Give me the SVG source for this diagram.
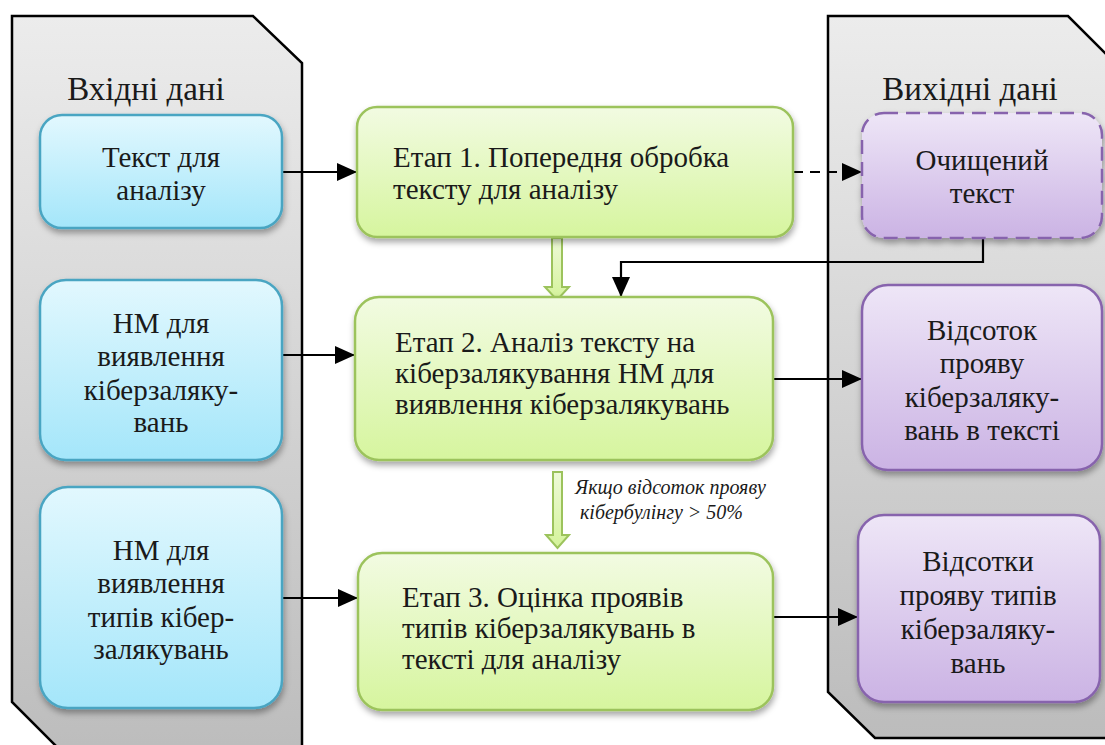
<svg xmlns="http://www.w3.org/2000/svg" width="1105" height="745" viewBox="0 0 1105 745">
<defs>
<linearGradient id="gGray" x1="0" y1="0" x2="0" y2="1"><stop offset="0" stop-color="#ececec"/><stop offset="1" stop-color="#bcbcbc"/></linearGradient>
<linearGradient id="gBlue" x1="0" y1="0" x2="0" y2="1"><stop offset="0" stop-color="#e2f8fe"/><stop offset="1" stop-color="#a4e6fa"/></linearGradient>
<linearGradient id="gGreen" x1="0" y1="0" x2="0" y2="1"><stop offset="0" stop-color="#f2fbe2"/><stop offset="1" stop-color="#d6f59e"/></linearGradient>
<linearGradient id="gPurple" x1="0" y1="0" x2="0" y2="1"><stop offset="0" stop-color="#eee6f7"/><stop offset="1" stop-color="#cbb3e4"/></linearGradient>
<linearGradient id="gArrow" x1="0" y1="0" x2="0" y2="1"><stop offset="0" stop-color="#eefad8"/><stop offset="1" stop-color="#d4f39a"/></linearGradient>
<filter id="sh" x="-10%" y="-10%" width="125%" height="130%"><feDropShadow dx="1" dy="4" stdDeviation="3" flood-color="#000" flood-opacity="0.35"/></filter>
<marker id="ah" markerUnits="userSpaceOnUse" markerWidth="22" markerHeight="18" refX="20" refY="9" orient="auto"><path d="M0,0 L20,9 L0,18 Z" fill="#000"/></marker>
</defs>

<g id="panel-in">
<polygon points="12,16 253,16 302,63 302,760 70,760 12,702" fill="url(#gGray)" stroke="#000" stroke-width="2.5"/>
<text font-family="Liberation Serif" font-size="33" fill="#1a1a1a" text-anchor="middle" x="146" y="100">Вхідні дані</text>
</g>
<g id="panel-out">
<polygon points="828,16 1068,16 1115,63 1115,738 875,738 828,692" fill="url(#gGray)" stroke="#000" stroke-width="2.5"/>
<text font-family="Liberation Serif" font-size="33" fill="#1a1a1a" text-anchor="middle" x="970" y="100">Вихідні дані</text>
</g>

<g id="connectors" stroke="#000" stroke-width="2.2" fill="none">
<line x1="282" y1="172" x2="357" y2="172" marker-end="url(#ah)"/>
<line x1="282" y1="355" x2="355" y2="355" marker-end="url(#ah)"/>
<line x1="282" y1="598" x2="358" y2="598" marker-end="url(#ah)"/>
<line x1="793" y1="172" x2="862" y2="172" stroke-dasharray="10,7" marker-end="url(#ah)"/>
<polyline points="983,238 983,262 621,262 621,297" marker-end="url(#ah)"/>
<line x1="773" y1="379" x2="862" y2="379" marker-end="url(#ah)"/>
<line x1="773" y1="617" x2="858" y2="617" marker-end="url(#ah)"/>
<path d="M552,238 L562,238 L562,287 L569,287 L557,300 L545,287 L552,287 Z" fill="url(#gArrow)" stroke="#9cc35c" stroke-width="2"/>
<path d="M553,472 L562,472 L562,535 L569,535 L557.5,548 L546,535 L553,535 Z" fill="url(#gArrow)" stroke="#9cc35c" stroke-width="2"/>
<text font-family="Liberation Serif" font-style="italic" font-size="20" fill="#1a1a1a" stroke="none" x="575" y="494">Якщо відсоток прояву</text>
<text font-family="Liberation Serif" font-style="italic" font-size="20" fill="#1a1a1a" stroke="none" x="580" y="519">кібербулінгу &gt; 50%</text>
</g>

<g id="in-text">
<rect x="40" y="115" width="242" height="113" rx="22" fill="url(#gBlue)" stroke="#4aa5c2" stroke-width="2.5" filter="url(#sh)"/>
<text font-family="Liberation Serif" font-size="29" fill="#1a1a1a" text-anchor="middle" x="161" y="167">Текст для</text>
<text font-family="Liberation Serif" font-size="29" fill="#1a1a1a" text-anchor="middle" x="161" y="200">аналізу</text>
</g>
<g id="in-nm1">
<rect x="40" y="280" width="242" height="180" rx="26" fill="url(#gBlue)" stroke="#4aa5c2" stroke-width="2.5" filter="url(#sh)"/>
<text font-family="Liberation Serif" font-size="29" fill="#1a1a1a" text-anchor="middle" x="161" y="333">НМ для</text>
<text font-family="Liberation Serif" font-size="29" fill="#1a1a1a" text-anchor="middle" x="161" y="366">виявлення</text>
<text font-family="Liberation Serif" font-size="29" fill="#1a1a1a" text-anchor="middle" x="161" y="400">кіберзаляку-</text>
<text font-family="Liberation Serif" font-size="29" fill="#1a1a1a" text-anchor="middle" x="161" y="432">вань</text>
</g>
<g id="in-nm2">
<rect x="40" y="487" width="242" height="221" rx="28" fill="url(#gBlue)" stroke="#4aa5c2" stroke-width="2.5" filter="url(#sh)"/>
<text font-family="Liberation Serif" font-size="29" fill="#1a1a1a" text-anchor="middle" x="161" y="560">НМ для</text>
<text font-family="Liberation Serif" font-size="29" fill="#1a1a1a" text-anchor="middle" x="161" y="593">виявлення</text>
<text font-family="Liberation Serif" font-size="29" fill="#1a1a1a" text-anchor="middle" x="161" y="627">типів кібер-</text>
<text font-family="Liberation Serif" font-size="29" fill="#1a1a1a" text-anchor="middle" x="161" y="659">залякувань</text>
</g>

<g id="stage1">
<rect x="357" y="107" width="436" height="130" rx="20" fill="url(#gGreen)" stroke="#9cc35c" stroke-width="2.5" filter="url(#sh)"/>
<text font-family="Liberation Serif" font-size="29" fill="#1a1a1a" x="393" y="167">Етап 1. Попередня обробка</text>
<text font-family="Liberation Serif" font-size="29" fill="#1a1a1a" x="393" y="199">тексту для аналізу</text>
</g>
<g id="stage2">
<rect x="355" y="297" width="418" height="163" rx="24" fill="url(#gGreen)" stroke="#9cc35c" stroke-width="2.5" filter="url(#sh)"/>
<text font-family="Liberation Serif" font-size="29" fill="#1a1a1a" x="395" y="352">Етап 2. Аналіз тексту на</text>
<text font-family="Liberation Serif" font-size="29" fill="#1a1a1a" x="395" y="383">кіберзалякування НМ для</text>
<text font-family="Liberation Serif" font-size="29" fill="#1a1a1a" x="395" y="414">виявлення кіберзалякувань</text>
</g>
<g id="stage3">
<rect x="358" y="553" width="415" height="157" rx="24" fill="url(#gGreen)" stroke="#9cc35c" stroke-width="2.5" filter="url(#sh)"/>
<text font-family="Liberation Serif" font-size="29" fill="#1a1a1a" x="402" y="607">Етап 3. Оцінка проявів</text>
<text font-family="Liberation Serif" font-size="29" fill="#1a1a1a" x="402" y="638">типів кіберзалякувань в</text>
<text font-family="Liberation Serif" font-size="29" fill="#1a1a1a" x="402" y="669">тексті для аналізу</text>
</g>

<g id="out-clean">
<rect x="862" y="113" width="240" height="125" rx="22" fill="url(#gPurple)" stroke="#8763ad" stroke-width="2.5" stroke-dasharray="14,8" filter="url(#sh)"/>
<text font-family="Liberation Serif" font-size="29" fill="#1a1a1a" text-anchor="middle" x="982" y="170">Очищений</text>
<text font-family="Liberation Serif" font-size="29" fill="#1a1a1a" text-anchor="middle" x="982" y="203">текст</text>
</g>
<g id="out-pct">
<rect x="862" y="285" width="240" height="185" rx="26" fill="url(#gPurple)" stroke="#8763ad" stroke-width="2.5" filter="url(#sh)"/>
<text font-family="Liberation Serif" font-size="29" fill="#1a1a1a" text-anchor="middle" x="982" y="340">Відсоток</text>
<text font-family="Liberation Serif" font-size="29" fill="#1a1a1a" text-anchor="middle" x="982" y="373">прояву</text>
<text font-family="Liberation Serif" font-size="29" fill="#1a1a1a" text-anchor="middle" x="982" y="407">кіберзаляку-</text>
<text font-family="Liberation Serif" font-size="29" fill="#1a1a1a" text-anchor="middle" x="982" y="440">вань в тексті</text>
</g>
<g id="out-types">
<rect x="858" y="515" width="242" height="187" rx="26" fill="url(#gPurple)" stroke="#8763ad" stroke-width="2.5" filter="url(#sh)"/>
<text font-family="Liberation Serif" font-size="29" fill="#1a1a1a" text-anchor="middle" x="978" y="571">Відсотки</text>
<text font-family="Liberation Serif" font-size="29" fill="#1a1a1a" text-anchor="middle" x="978" y="605">прояву типів</text>
<text font-family="Liberation Serif" font-size="29" fill="#1a1a1a" text-anchor="middle" x="978" y="639">кіберзаляку-</text>
<text font-family="Liberation Serif" font-size="29" fill="#1a1a1a" text-anchor="middle" x="978" y="673">вань</text>
</g>
</svg>
